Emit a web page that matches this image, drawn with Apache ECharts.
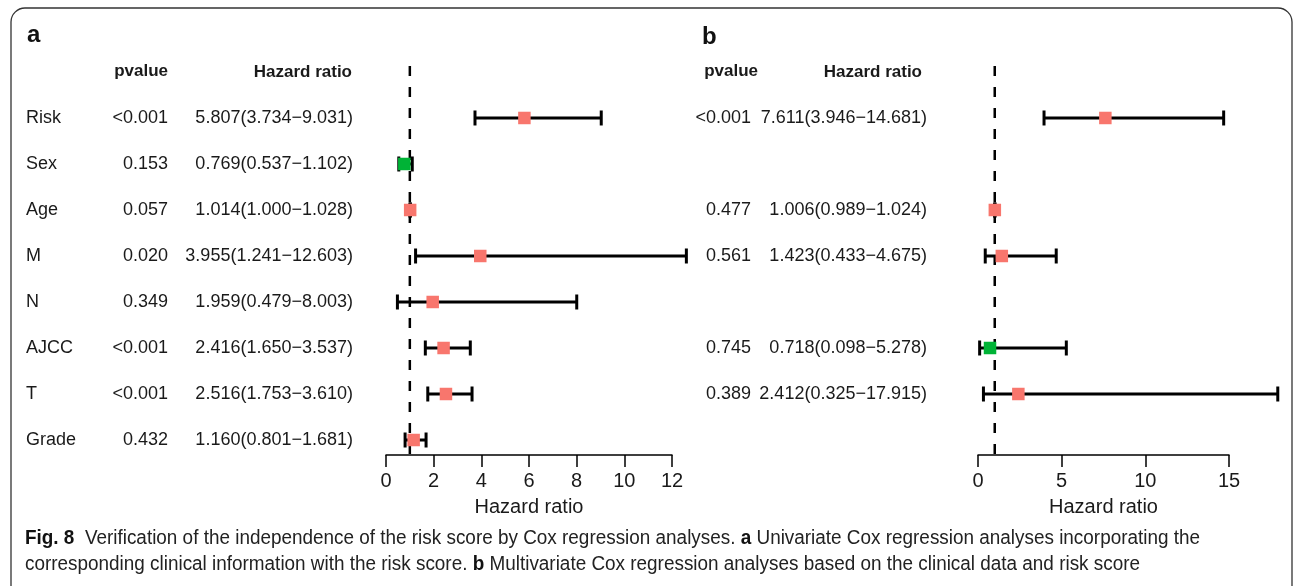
<!DOCTYPE html>
<html><head><meta charset="utf-8">
<script src="https://cdn.jsdelivr.net/npm/echarts@6/dist/echarts.min.js"></script>
<style>html,body{margin:0;padding:0;background:#fff}#c{width:1295px;height:586px}</style>
</head><body><div id="c"></div>
<script>
// ---------- data ----------
const rowsA  = ['Risk','Sex','Age','M','N','AJCC','T','Grade'];
const pvalA  = ['<0.001','0.153','0.057','0.020','0.349','<0.001','<0.001','0.432'];
const hrA    = [5.807, 0.769, 1.014, 3.955, 1.959, 2.416, 2.516, 1.160];
const lowA   = [3.734, 0.537, 1.000, 1.241, 0.479, 1.650, 1.753, 0.801];
const highA  = [9.031, 1.102, 1.028, 12.603, 8.003, 3.537, 3.610, 1.681];
// panel b uses the same row slots; null = row absent
const pvalB  = ['<0.001', null, '0.477', '0.561', null, '0.745', '0.389', null];
const hrB    = [7.611, null, 1.006, 1.423, null, 0.718, 2.412, null];
const lowB   = [3.946, null, 0.989, 0.433, null, 0.098, 0.325, null];
const highB  = [14.681, null, 1.024, 4.675, null, 5.278, 17.915, null];
const ticksA = [0, 2, 4, 6, 8, 10, 12];
const ticksB = [0, 5, 10, 15];
const refHR  = 1;
const axisTitle = 'Hazard ratio';
const headP = 'pvalue', headHR = 'Hazard ratio';
const captionLine1 = [['Fig. 8', true], ['  Verification of the independence of the risk score by Cox regression analyses. ', false], ['a', true], [' Univariate Cox regression analyses incorporating the', false]];
const captionLine2 = [['corresponding clinical information with the risk score. ', false], ['b', true], [' Multivariate Cox regression analyses based on the clinical data and risk score', false]];

// ---------- styling ----------
const FONT = '"Liberation Sans", Arial, Helvetica, sans-serif';
const RED = '#F8766D', GREEN = '#00B336';
const Y_MIN = -1.13, Y_MAX = 7.326;
const fmt = v => v.toFixed(3);
const hrText = (h, l, u) => fmt(h) + '(' + fmt(l) + '\u2212' + fmt(u) + ')';

function buildRows(hr, lo, hi, pv, names) {
  const out = [];
  for (let i = 0; i < hr.length; i++) {
    if (hr[i] == null) continue;
    out.push({ value: [hr[i], i, lo[i], hi[i]], pv: pv[i], name: names ? names[i] : '' });
  }
  return out;
}
const dataA = buildRows(hrA, lowA, highA, pvalA, rowsA);
const dataB = buildRows(hrB, lowB, highB, pvalB, null);

function barRender(params, api) {
  const h = api.value(0), i = api.value(1), l = api.value(2), u = api.value(3);
  const pc = api.coord([h, i]);
  const pl = api.coord([l, i]);
  const pu = api.coord([u, i]);
  const y = pc[1];
  const ls = { stroke: '#000', lineWidth: 3 };
  const s = 12.5;
  return { type: 'group', children: [
    { type: 'line', shape: { x1: pl[0], y1: y, x2: pu[0], y2: y }, style: ls },
    { type: 'line', shape: { x1: pl[0], y1: y - 7.5, x2: pl[0], y2: y + 7.5 }, style: ls },
    { type: 'line', shape: { x1: pu[0], y1: y - 7.5, x2: pu[0], y2: y + 7.5 }, style: ls },
    { type: 'rect', shape: { x: pc[0] - s / 2, y: y - s / 2, width: s, height: s }, style: { fill: h < 1 ? GREEN : RED } }
  ]};
}

function txt(x, y, t, align) {
  return { type: 'text', x: x, y: y, style: { text: t, align: align, verticalAlign: 'middle', fontSize: 18, fontFamily: FONT, fill: '#1a1a1a' } };
}
function makeTextRender(cols) {
  return function (params, api) {
    const h = api.value(0), i = api.value(1), l = api.value(2), u = api.value(3);
    const y = api.coord([0, i])[1];
    const item = cols.data[params.dataIndex];
    const ch = [];
    if (cols.nameX != null) ch.push(txt(cols.nameX, y, item.name, 'left'));
    ch.push(txt(cols.pX, y, item.pv, 'right'));
    ch.push(txt(cols.hrX, y, hrText(h, l, u), 'right'));
    return { type: 'group', children: ch };
  };
}

// caption measurement for condensed look
const mctx = document.createElement('canvas').getContext('2d');
const CAP_SIZE = 19.5;
function segWidth(segs) {
  let w = 0;
  segs.forEach(s => { mctx.font = (s[1] ? 'bold ' : '') + CAP_SIZE + 'px ' + FONT; w += mctx.measureText(s[0]).width; });
  return w;
}
const capScale = 1175 / segWidth(captionLine1);
const richStr = segs => segs.map(s => s[1] ? '{b|' + s[0] + '}' : '{n|' + s[0] + '}').join('');
function captionEl(segs, y) {
  return { type: 'text', x: 25, y: y, scaleX: capScale, style: {
    text: richStr(segs), fontSize: CAP_SIZE, fontFamily: FONT, fill: '#222', verticalAlign: 'middle',
    rich: { b: { fontWeight: 'bold', fontSize: CAP_SIZE, fontFamily: FONT, fill: '#111' }, n: { fontSize: CAP_SIZE, fontFamily: FONT, fill: '#222' } }
  }};
}

function xAxisOf(grid, max, interval) {
  return {
    gridIndex: grid, type: 'value', min: 0, max: max, interval: interval, position: 'bottom',
    name: axisTitle, nameLocation: 'middle', nameGap: 42,
    nameTextStyle: { fontSize: 20, fontFamily: FONT, color: '#1a1a1a' },
    axisLine: { show: true, onZero: false, lineStyle: { color: '#000', width: 1.5 } },
    axisTick: { show: true, length: 12, lineStyle: { color: '#000', width: 1.5 } },
    axisLabel: { fontSize: 20, fontFamily: FONT, color: '#1a1a1a', margin: 16 },
    splitLine: { show: false }
  };
}
function yAxisOf(grid) {
  return { gridIndex: grid, type: 'value', min: Y_MIN, max: Y_MAX, inverse: true, show: false };
}

const option = {
  animation: false,
  backgroundColor: '#fff',
  grid: [
    { left: 386, right: 1295 - 672, top: 66, bottom: 586 - 455 },
    { left: 978, right: 1295 - 1229, top: 66, bottom: 586 - 455 }
  ],
  xAxis: [xAxisOf(0, ticksA[ticksA.length - 1], ticksA[1] - ticksA[0]), xAxisOf(1, ticksB[ticksB.length - 1], ticksB[1] - ticksB[0])],
  yAxis: [yAxisOf(0), yAxisOf(1)],
  series: [
    { type: 'line', xAxisIndex: 0, yAxisIndex: 0, data: [[refHR, Y_MIN], [refHR, Y_MAX]], symbol: 'none', z: 1,
      lineStyle: { color: '#000', width: 2.5, type: [10, 11] } },
    { type: 'line', xAxisIndex: 1, yAxisIndex: 1, data: [[refHR, Y_MIN], [refHR, Y_MAX]], symbol: 'none', z: 1,
      lineStyle: { color: '#000', width: 2.5, type: [10, 11] } },
    { type: 'custom', xAxisIndex: 0, yAxisIndex: 0, data: dataA, renderItem: barRender, z: 3, clip: false },
    { type: 'custom', xAxisIndex: 1, yAxisIndex: 1, data: dataB, renderItem: barRender, z: 3, clip: false },
    { type: 'custom', xAxisIndex: 0, yAxisIndex: 0, data: dataA, z: 3, clip: false,
      renderItem: makeTextRender({ data: dataA, nameX: 26, pX: 168, hrX: 353 }) },
    { type: 'custom', xAxisIndex: 1, yAxisIndex: 1, data: dataB, z: 3, clip: false,
      renderItem: makeTextRender({ data: dataB, nameX: null, pX: 751, hrX: 927 }) }
  ],
  graphic: [
    { type: 'rect', shape: { x: 11, y: 8, width: 1281, height: 600, r: 14 }, style: { fill: 'none', stroke: '#333', lineWidth: 1.3 }, z: 0 },
    { type: 'text', x: 27, y: 35, style: { text: 'a', fontSize: 24, fontWeight: 'bold', fontFamily: FONT, fill: '#111', verticalAlign: 'middle' } },
    { type: 'text', x: 702, y: 37, style: { text: 'b', fontSize: 24, fontWeight: 'bold', fontFamily: FONT, fill: '#111', verticalAlign: 'middle' } },
    { type: 'text', x: 168, y: 71, style: { text: headP, align: 'right', fontSize: 17, fontWeight: 'bold', fontFamily: FONT, fill: '#1a1a1a', verticalAlign: 'middle' } },
    { type: 'text', x: 352, y: 72, style: { text: headHR, align: 'right', fontSize: 17, fontWeight: 'bold', fontFamily: FONT, fill: '#1a1a1a', verticalAlign: 'middle' } },
    { type: 'text', x: 758, y: 71, style: { text: headP, align: 'right', fontSize: 17, fontWeight: 'bold', fontFamily: FONT, fill: '#1a1a1a', verticalAlign: 'middle' } },
    { type: 'text', x: 922, y: 72, style: { text: headHR, align: 'right', fontSize: 17, fontWeight: 'bold', fontFamily: FONT, fill: '#1a1a1a', verticalAlign: 'middle' } },
    captionEl(captionLine1, 539),
    captionEl(captionLine2, 565)
  ]
};
const chart = echarts.init(document.getElementById('c'), null, { renderer: 'canvas' });
chart.setOption(option);
</script>
</body></html>
